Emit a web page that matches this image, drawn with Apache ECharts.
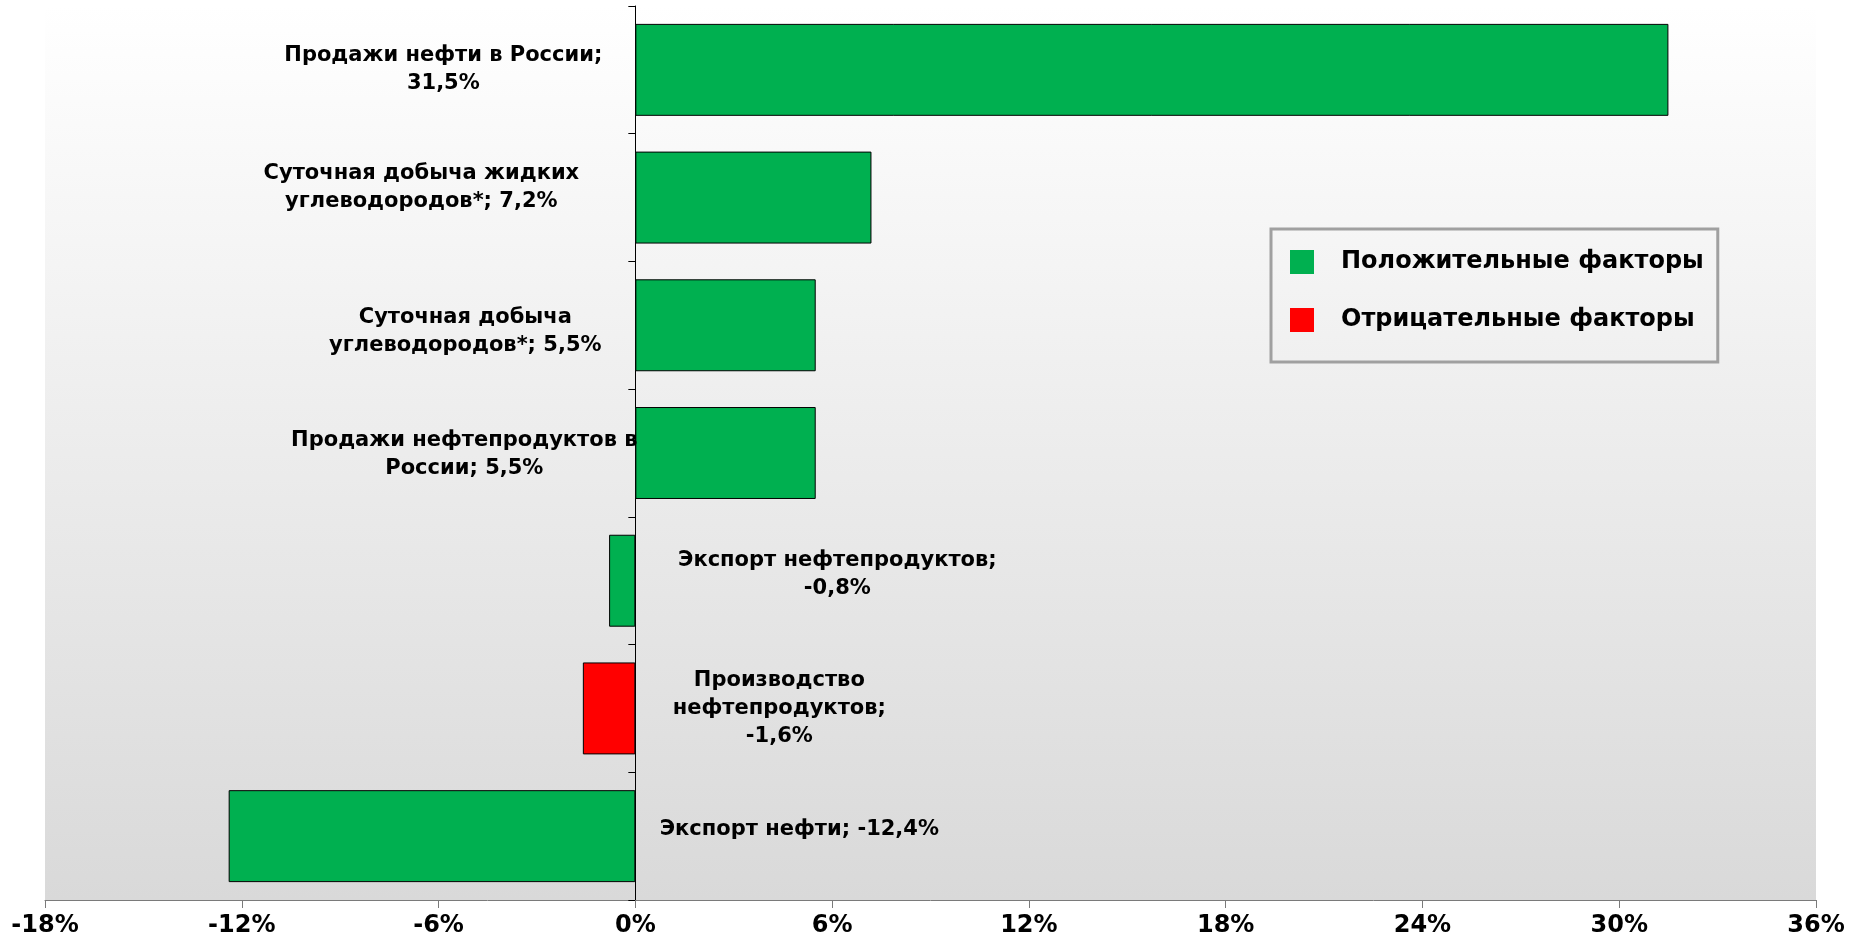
<!DOCTYPE html>
<html>
<head>
<meta charset="utf-8">
<script src="https://cdn.jsdelivr.net/npm/echarts@6/dist/echarts.min.js"></script>
<style>
  html, body { margin: 0; padding: 0; background: #fff; }
  #chart { width: 1864px; height: 943px; }
</style>
</head>
<body>
<div id="chart"></div>
<script>
// факторы (сверху вниз) и их вклад, %
const factorNames = [
    'Продажи нефти в России;\n',
    'Суточная добыча жидких\nуглеводородов*; ',
    'Суточная добыча\nуглеводородов*; ',
    'Продажи нефтепродуктов в\nРоссии; ',
    'Экспорт нефтепродуктов;\n',
    'Производство\nнефтепродуктов;\n',
    'Экспорт нефти; '
];
const factorValues = [31.5, 7.2, 5.5, 5.5, -0.8, -1.6, -12.4];
// тип фактора: 1 - положительный, 0 - отрицательный
const factorType = [1, 1, 1, 1, 1, 0, 1];
const seriesNames = ['Положительные факторы', 'Отрицательные факторы'];
const axisMin = -18, axisMax = 36, axisStep = 6;

// сдвиг подписей от нулевой оси (раскладка, не данные)
const labelShift = [[-192, 0], [-214, -10], [-170, 6], [-171, 2], [202, -6], [144, 0], [164, -7]];

const fmt = v => String(v).replace('.', ',') + '%';

function buildData(type) {
    return factorValues.map((v, i) => {
        if (factorType[i] !== type) return '-';
        return {
            value: v,
            label: {
                position: v >= 0 ? 'left' : 'right',
                offset: labelShift[i]
            }
        };
    });
}

const chart = echarts.init(document.getElementById('chart'));
const labelStyle = {
    show: true,
    distance: 0,
    align: 'center',
    verticalAlign: 'middle',
    fontFamily: 'DejaVu Sans',
    fontWeight: 'bold',
    fontSize: 21,
    lineHeight: 28,
    color: '#000',
    formatter: p => factorNames[p.dataIndex] + fmt(p.value)
};

chart.setOption({
    animation: false,
    backgroundColor: '#fff',
    grid: {
        left: 45,
        right: 48,
        top: 6,
        bottom: 43,
        show: true,
        borderWidth: 0,
        backgroundColor: new echarts.graphic.LinearGradient(0, 0, 0, 1, [
            { offset: 0, color: '#ffffff' },
            { offset: 1, color: '#d9d9d9' }
        ])
    },
    legend: {
        orient: 'vertical',
        left: 1271,
        top: 229,
        padding: [21, 14, 30, 19],
        itemGap: 34,
        itemWidth: 24,
        itemHeight: 24,
        icon: 'rect',
        itemStyle: { borderWidth: 0 },
        borderColor: '#a0a0a0',
        borderWidth: 3,
        textStyle: {
            fontFamily: 'DejaVu Sans',
            fontWeight: 'bold',
            fontSize: 24,
            color: '#000',
            padding: [0, 0, 0, 22]
        },
        data: seriesNames
    },
    xAxis: {
        type: 'value',
        min: axisMin,
        max: axisMax,
        interval: axisStep,
        splitLine: { show: false },
        axisLine: { show: true, lineStyle: { color: '#7a7a7a', width: 1 } },
        axisTick: { show: true, length: 8, lineStyle: { color: '#7a7a7a' } },
        axisLabel: {
            margin: 14,
            fontFamily: 'DejaVu Sans',
            fontWeight: 'bold',
            fontSize: 24,
            color: '#000',
            formatter: v => v + '%'
        }
    },
    yAxis: {
        type: 'category',
        inverse: true,
        data: factorValues.map((v, i) => i),
        axisLine: { show: true, onZero: true, lineStyle: { color: '#000', width: 1 } },
        axisTick: { show: true, length: 7, lineStyle: { color: '#000' } },
        axisLabel: { show: false },
        splitLine: { show: false }
    },
    series: [
        {
            name: seriesNames[0],
            type: 'bar',
            barCategoryGap: '28%',
            barGap: '-100%',
            itemStyle: { color: '#00b050', borderColor: '#000', borderWidth: 1 },
            label: labelStyle,
            data: buildData(1)
        },
        {
            name: seriesNames[1],
            type: 'bar',
            barCategoryGap: '28%',
            barGap: '-100%',
            itemStyle: { color: '#ff0000', borderColor: '#000', borderWidth: 1 },
            label: labelStyle,
            data: buildData(0)
        }
    ]
});
</script>
</body>
</html>
